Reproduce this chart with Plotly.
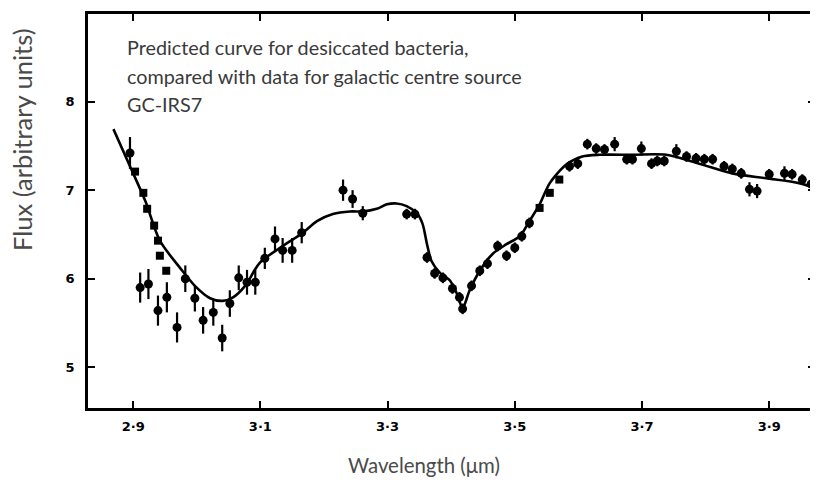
import plotly.graph_objects as go

# Model curve (predicted, desiccated bacteria)
curve_x = [2.869, 2.895, 2.919, 2.942, 2.974, 2.997, 3.021, 3.041, 3.057, 3.076, 3.099, 3.131,
           3.167, 3.189, 3.214, 3.241, 3.261, 3.283, 3.299, 3.314, 3.330, 3.346, 3.355, 3.362,
           3.369, 3.382, 3.398, 3.409, 3.418, 3.429, 3.445, 3.465, 3.487, 3.508, 3.523, 3.539,
           3.555, 3.581, 3.606, 3.633, 3.685, 3.738, 3.790, 3.842, 3.895, 3.947, 3.974]
curve_y = [7.69, 7.27, 6.88, 6.43, 6.12, 5.92, 5.78, 5.75, 5.79, 5.92, 6.18, 6.35,
           6.52, 6.65, 6.73, 6.76, 6.76, 6.79, 6.84, 6.85, 6.82, 6.74, 6.62, 6.39,
           6.20, 6.07, 5.98, 5.83, 5.67, 5.87, 6.09, 6.28, 6.39, 6.48, 6.65, 6.84,
           7.08, 7.29, 7.38, 7.40, 7.40, 7.40, 7.30, 7.19, 7.135, 7.08, 7.02]

# GC-IRS7 data (circles with error bars)
obs_x = [2.895, 2.911, 2.924, 2.939, 2.953, 2.969, 2.982, 2.997, 3.010, 3.026, 3.040, 3.052,
         3.066, 3.079, 3.092, 3.107, 3.123, 3.135, 3.150, 3.165, 3.230, 3.245, 3.261, 3.330,
         3.343, 3.362, 3.374, 3.387, 3.402, 3.413, 3.418, 3.432, 3.445, 3.457, 3.473, 3.487,
         3.500, 3.511, 3.523, 3.586, 3.599, 3.614, 3.628, 3.641, 3.657, 3.676, 3.685, 3.699,
         3.715, 3.724, 3.735, 3.754, 3.770, 3.785, 3.798, 3.811, 3.829, 3.842, 3.856, 3.869,
         3.881, 3.900, 3.924, 3.936, 3.952, 3.966]
obs_y = [7.42, 5.90, 5.94, 5.64, 5.79, 5.45, 6.00, 5.78, 5.53, 5.62, 5.33, 5.72,
         6.01, 5.96, 5.96, 6.23, 6.45, 6.32, 6.32, 6.52, 7.00, 6.90, 6.74, 6.73,
         6.73, 6.24, 6.06, 6.01, 5.89, 5.79, 5.66, 5.92, 6.09, 6.17, 6.37, 6.26,
         6.35, 6.48, 6.63, 7.27, 7.30, 7.52, 7.47, 7.46, 7.52, 7.35, 7.35, 7.47,
         7.30, 7.33, 7.33, 7.44, 7.38, 7.36, 7.35, 7.35, 7.27, 7.24, 7.19, 7.01,
         6.99, 7.18, 7.19, 7.18, 7.12, 7.07]
obs_err = [0.18, 0.17, 0.17, 0.17, 0.17, 0.17, 0.15, 0.15, 0.15, 0.15, 0.15, 0.15,
           0.14, 0.14, 0.14, 0.12, 0.14, 0.14, 0.14, 0.12, 0.12, 0.10, 0.08, 0.06,
           0.06, 0.06, 0.06, 0.06, 0.06, 0.06, 0.06, 0.06, 0.06, 0.06, 0.06, 0.06,
           0.06, 0.06, 0.06, 0.06, 0.06, 0.06, 0.06, 0.06, 0.08, 0.06, 0.06, 0.08,
           0.06, 0.06, 0.06, 0.08, 0.06, 0.06, 0.06, 0.06, 0.06, 0.06, 0.06, 0.08,
           0.08, 0.06, 0.08, 0.06, 0.06, 0.06]

# Square-marker points
sq_x = [2.903, 2.916, 2.922, 2.933, 2.939, 2.942, 2.952, 3.539, 3.555, 3.570]
sq_y = [7.21, 6.97, 6.79, 6.60, 6.43, 6.26, 6.09, 6.80, 6.97, 7.12]

x_ticks = [2.9, 3.1, 3.3, 3.5, 3.7, 3.9]
x_tick_labels = ["2·9", "3·1", "3·3", "3·5", "3·7", "3·9"]
y_ticks = [5, 6, 7, 8]
y_tick_labels = ["5", "6", "7", "8"]

caption_lines = ["Predicted curve for desiccated bacteria,",
                 "compared with data for galactic centre source",
                 "GC-IRS7"]

fig = go.Figure()
fig.add_trace(go.Scatter(x=curve_x, y=curve_y, mode="lines",
                         line=dict(color="black", width=2.6, shape="spline", smoothing=0.8),
                         showlegend=False, hoverinfo="skip"))
fig.add_trace(go.Scatter(x=obs_x, y=obs_y, mode="markers",
                         marker=dict(color="black", size=9, symbol="circle"),
                         error_y=dict(type="data", array=obs_err, color="black",
                                      thickness=2.2, width=0),
                         showlegend=False))
fig.add_trace(go.Scatter(x=sq_x, y=sq_y, mode="markers",
                         marker=dict(color="black", size=8, symbol="square"),
                         showlegend=False))

# page body adds an 8px offset; positions below are in page pixels minus that offset
OFF = 8
W, H = 818 - OFF, 481 - OFF
L, R, T, B = 88 - OFF, 815 - OFF, 14 - OFF, 408 - OFF


def px_to_paper(px, py):
    return (px - OFF - L) / (R - L), (B - (py - OFF)) / (B - T)


for line_text, cy in zip(caption_lines, [47, 76, 104]):
    ax, ay = px_to_paper(125, cy)
    fig.add_annotation(xref="paper", yref="paper", x=ax, y=ay, text=line_text,
                       showarrow=False, xanchor="left", yanchor="middle",
                       font=dict(family="Lato", size=19.8, color="#3a3a3a"))

tx, ty = px_to_paper(22, 140)
fig.add_annotation(xref="paper", yref="paper", x=tx, y=ty, text="Flux (arbitrary units)",
                   textangle=-90, showarrow=False, xanchor="center", yanchor="middle",
                   font=dict(family="Lato", size=25.5, color="#4a4a4a"))
tx, ty = px_to_paper(424, 465)
fig.add_annotation(xref="paper", yref="paper", x=tx, y=ty, text="Wavelength (μm)",
                   showarrow=False, xanchor="center", yanchor="middle",
                   font=dict(family="Lato", size=20.4, color="#4a4a4a"))

axis_common = dict(showline=True, linecolor="black", linewidth=2.5, mirror="ticks",
                   ticks="inside", ticklen=7, tickwidth=1.6, tickcolor="black",
                   showgrid=False, zeroline=False, automargin=False,
                   tickfont=dict(family="DejaVu Sans", size=13, color="black", weight="bold"))

fig.update_xaxes(range=[2.829, 3.972], tickvals=x_ticks, ticktext=x_tick_labels,
                 ticklabelstandoff=5, **axis_common)
fig.update_yaxes(range=[4.54, 8.99], tickvals=y_ticks, ticktext=y_tick_labels,
                 ticklabelstandoff=8, **axis_common)

fig.update_layout(width=W, height=H, margin=dict(l=L, r=W - R, t=T, b=H - B),
                  plot_bgcolor="white", paper_bgcolor="white")

fig.write_html("out.html")
